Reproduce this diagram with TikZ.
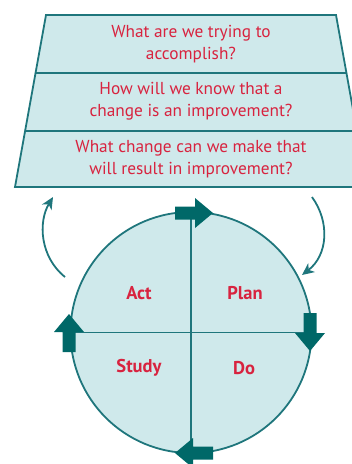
\documentclass[tikz,border=0pt]{standalone}
\usepackage{fontspec}
\setmainfont{PT Sans}
\usetikzlibrary{arrows.meta}
\definecolor{tealline}{HTML}{1F767C}
\definecolor{tealfill}{HTML}{CFE9EB}
\definecolor{tealdark}{HTML}{006868}
\definecolor{qred}{HTML}{D8233F}
\tikzset{
  qtext/.style={text=qred, font=\fontsize{17.3}{21.5}\selectfont, align=center, inner sep=0pt},
  phase/.style={text=qred, font=\fontsize{18.5}{20}\selectfont\bfseries, inner sep=0pt},
  outline/.style={draw=tealline, line width=1.8pt},
  curvearrow/.style={draw=tealline, line width=1.8pt, -{Stealth[length=12pt,width=11pt,inset=3.5pt]}},
  pics/barrow/.style={code={
    \fill[tealdark] (0,-6.5) -- (20,-6.5) -- (20,-15) -- (38,0) -- (20,15) -- (20,6.5) -- (0,6.5) -- cycle;
  }}
}
\begin{document}
\begin{tikzpicture}[x=1pt,y=-1pt]
\useasboundingbox (0,0) rectangle (352,464);
\begin{scope}
\clip (0,0) rectangle (352,464);
% trapezoid
\filldraw[fill=tealfill, outline, line join=miter] (46,15) -- (336,15) -- (367,187) -- (15,187) -- cycle;
\draw[outline] (35.5,73) -- (346.5,73);
\draw[outline] (25.1,131) -- (356.9,131);
\end{scope}
\node[qtext] (q1) at (191,44) {What are we trying to\\accomplish?};
\node[qtext] (q2) at (191,101) {How will we know that a\\change is an improvement?};
\node[qtext] (q3) at (191,159) {What change can we make that\\will result in improvement?};
% cycle
\node[circle, draw=tealline, fill=tealfill, line width=1.8pt, minimum size=241pt, inner sep=0pt] (cyc) at (191,332.5) {};
\draw[outline, line width=1.6pt] (cyc.north) -- (cyc.south);
\draw[outline, line width=1.6pt] (cyc.west) -- (cyc.east);
\node[phase] (act) at (139,293) {Act};
\node[phase] (plan) at (245,293) {Plan};
\node[phase] (study) at (139,368) {Study};
\node[phase] (do) at (244,368) {Do};
% block arrows
\pic at (175,213) {barrow};
\pic[rotate=-90] at (310,313) {barrow};
\pic[rotate=180] at (213,453) {barrow};
\pic[rotate=90] at (69,352) {barrow};
% curved arrows
\coordinate (ra) at (312,197);
\coordinate (rb) at (302,275);
\coordinate (la) at (65,277);
\coordinate (lb) at (53,197);
\draw[curvearrow] (ra) .. controls (330,222) and (328,255) .. (rb);
\draw[curvearrow] (la) .. controls (40,257) and (38,222) .. (lb);
\end{tikzpicture}
\end{document}
